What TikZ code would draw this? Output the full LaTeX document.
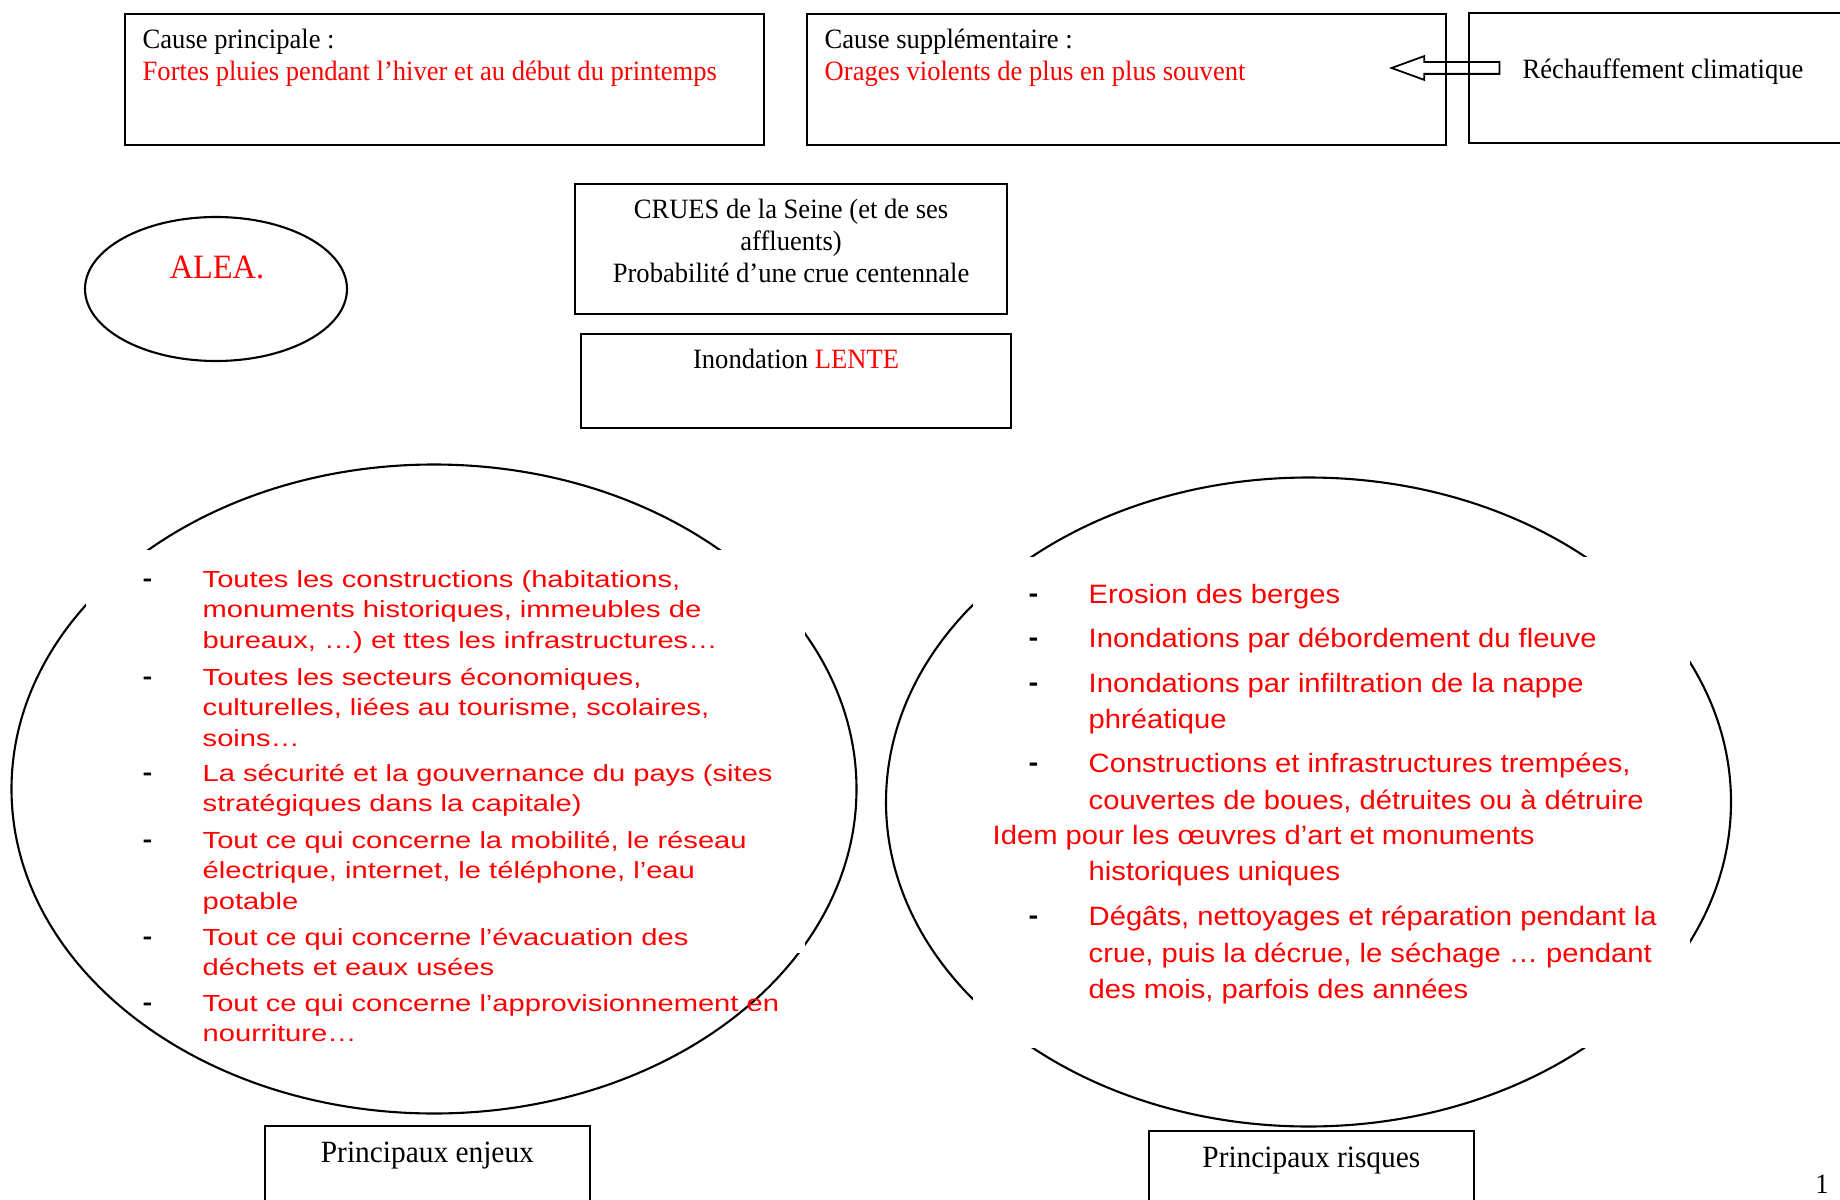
\documentclass[tikz,border=0pt]{standalone}
\usepackage{fontspec}
\setmainfont{Liberation Serif}[FakeStretch=0.95]
\newfontfamily\enjeuxfont{Liberation Sans}[FakeStretch=1.25]
\newfontfamily\risquesfont{Liberation Sans}[FakeStretch=1.1]
\usetikzlibrary{shapes, shapes.geometric, shapes.arrows, positioning}

\begin{document}
\begin{tikzpicture}[x=0.1mm, y=-0.1mm, font=\fontsize{7.96}{9.02}\selectfont,
  boite/.style={draw, rectangle, line width=0.6pt, inner sep=0pt, anchor=north west},
  texte/.style={inner sep=0pt, align=left, anchor=north west},
  enjeu/.style={inner sep=0pt, align=left, anchor=north west, text=red, font=\enjeuxfont\fontsize{6.63}{8.68}\selectfont},
  risque/.style={inner sep=0pt, align=left, anchor=north west, text=red, font=\risquesfont\fontsize{7.55}{10.36}\selectfont},
  tiretg/.style={inner sep=0pt, anchor=base west, font=\enjeuxfont\bfseries\fontsize{6.63}{8.68}\selectfont},
  tiretd/.style={inner sep=0pt, anchor=base west, font=\risquesfont\bfseries\fontsize{7.55}{10.36}\selectfont}]

\useasboundingbox (0,0) rectangle (1840,1200);
\clip (0,0) rectangle (1840,1200);

\node[boite, minimum width=63.9mm, minimum height=13.1mm] (causeP) at (124,13) {};
\node[texte, below right=1.55mm and 1.8mm of causeP.north west] (causePtxt) {Cause principale :\\\textcolor{red}{Fortes pluies pendant l’hiver et au début du printemps}};

\node[boite, minimum width=63.9mm, minimum height=13.1mm] (causeS) at (806,13) {};
\node[texte, below right=1.55mm and 1.8mm of causeS.north west] (causeStxt) {Cause supplémentaire :\\\textcolor{red}{Orages violents de plus en plus souvent}};

\node[boite, minimum width=40mm, minimum height=13mm] (rechauf) at (1468,12) {};
\node[texte, below right=4.6mm and 5.4mm of rechauf.north west] (rechauftxt) {Réchauffement climatique};

\node[single arrow, draw, line width=0.5pt, shape border rotate=180, minimum height=10.8mm, minimum width=2.2mm, single arrow head extend=0.6mm, single arrow tip angle=40, inner xsep=0pt, inner ysep=0.5mm, anchor=tip] (fleche) at (1389,68) {};

\node[draw, ellipse, line width=0.6pt, minimum width=26.2mm, minimum height=14.4mm, inner sep=0pt] (alea) at (216,289) {};
\node[inner sep=0pt, anchor=north, text=red, font=\fontsize{9.7}{11}\selectfont] (aleatxt) at (217,255) {ALEA.};

\node[boite, minimum width=43.2mm, minimum height=13mm] (crues) at (574,183) {};
\node[inner sep=0pt, align=center, below=1.55mm of crues.north] (cruestxt) {CRUES de la Seine (et de ses\\affluents)\\Probabilité d’une crue centennale};

\node[draw, rectangle, line width=0.6pt, inner sep=0pt, minimum width=43mm, minimum height=9.4mm, below right=1.8mm and 0.6mm of crues.south west] (inond) {};
\node[inner sep=0pt, below=1.5mm of inond.north] (inondtxt) {Inondation \textcolor{red}{LENTE}};

% enjeux
\node[draw, ellipse, line width=0.6pt, minimum width=84.5mm, minimum height=64.9mm, inner sep=0pt] (enjeux) at (434,789) {};
\fill[white] (86,550) rectangle (805,953);

\node[tiretg] (g1) at (142,586.5) {-};
\node[tiretg] (g2) at (142,684.5) {-};
\node[tiretg] (g3) at (142,780.5) {-};
\node[tiretg] (g4) at (142,847.5) {-};
\node[tiretg] (g5) at (142,944.5) {-};
\node[tiretg] (g6) at (142,1010.5) {-};
\node[enjeu] (e1) at (202,569.5) {Toutes les constructions (habitations,\\monuments historiques, immeubles de\\bureaux, …) et ttes les infrastructures…};
\node[enjeu] (e2) at (202,667.5) {Toutes les secteurs économiques,\\culturelles, liées au tourisme, scolaires,\\soins…};
\node[enjeu] (e3) at (202,763.5) {La sécurité et la gouvernance du pays (sites\\stratégiques dans la capitale)};
\node[enjeu] (e4) at (202,830.5) {Tout ce qui concerne la mobilité, le réseau\\électrique, internet, le téléphone, l’eau\\potable};
\node[enjeu] (e5) at (202,927.5) {Tout ce qui concerne l’évacuation des\\déchets et eaux usées};
\node[enjeu] (e6) at (202,993.5) {Tout ce qui concerne l’approvisionnement en\\nourriture…};

% risques
\node[draw, ellipse, line width=0.6pt, minimum width=84.5mm, minimum height=64.9mm, inner sep=0pt] (risques) at (1308.5,802) {};
\fill[white] (973,557) rectangle (1690,1048);

\node[tiretd] (d1) at (1028,602.5) {-};
\node[tiretd] (d2) at (1028,646.5) {-};
\node[tiretd] (d3) at (1028,691.5) {-};
\node[tiretd] (d4) at (1028,771.5) {-};
\node[tiretd] (d5) at (1028,924.5) {-};
\node[risque] (r1) at (1088,583.5) {Erosion des berges};
\node[risque] (r2) at (1088,627.5) {Inondations par débordement du fleuve};
\node[risque] (r3) at (1088,672.5) {Inondations par infiltration de la nappe\\phréatique};
\node[risque] (r4) at (1088,752.5) {Constructions et infrastructures trempées,\\couvertes de boues, détruites ou à détruire};
\node[risque] (r4b) at (992,824.5) {Idem pour les œuvres d’art et monuments\\\hspace*{9.6mm}historiques uniques};
\node[risque] (r5) at (1088,905.5) {Dégâts, nettoyages et réparation pendant la\\crue, puis la décrue, le séchage … pendant\\des mois, parfois des années};

\node[boite, line width=0.5pt, minimum width=32.5mm, minimum height=10mm] (enjeuxlbl) at (264,1125) {};
\node[inner sep=0pt, font=\fontsize{8.8}{10}\selectfont, below=1.6mm of enjeuxlbl.north] (enjeuxtxt) {Principaux enjeux};
\node[boite, line width=0.5pt, minimum width=32.5mm, minimum height=10mm] (risqueslbl) at (1148,1130) {};
\node[inner sep=0pt, font=\fontsize{8.8}{10}\selectfont, below=1.6mm of risqueslbl.north] (risquestxt) {Principaux risques};

\node[inner sep=0pt, anchor=north] (pagenum) at (1822,1174) {1};

\end{tikzpicture}
\end{document}
